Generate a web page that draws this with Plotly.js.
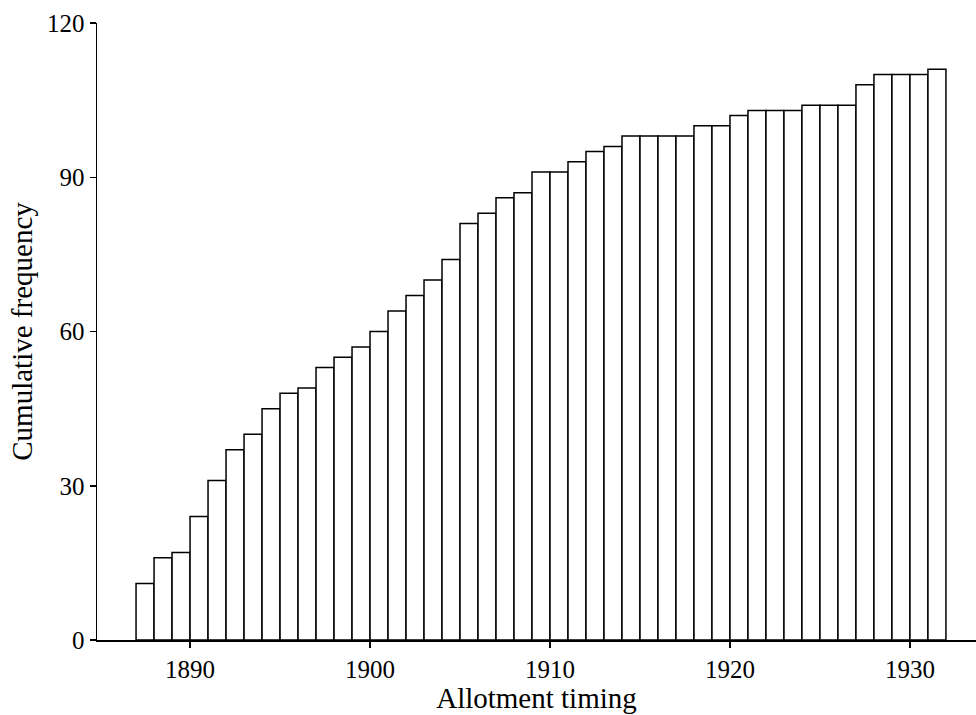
<!DOCTYPE html>
<html>
<head>
<meta charset="utf-8">
<script src="https://cdn.plot.ly/plotly-3.0.1.min.js"></script>
<style>
  html, body { margin: 0; padding: 0; background: #ffffff; }
  #chart { width: 976px; height: 715px; }
</style>
</head>
<body>
<div id="chart"></div>
<script>
// Allotment years (each bar spans one year, starting at the year value)
const years = [
  1887, 1888, 1889, 1890, 1891, 1892, 1893, 1894, 1895, 1896,
  1897, 1898, 1899, 1900, 1901, 1902, 1903, 1904, 1905, 1906,
  1907, 1908, 1909, 1910, 1911, 1912, 1913, 1914, 1915, 1916,
  1917, 1918, 1919, 1920, 1921, 1922, 1923, 1924, 1925, 1926,
  1927, 1928, 1929, 1930, 1931
];

// Cumulative number of allotments up to each year
const cumulative = [
  11, 16, 17, 24, 31, 37, 40, 45, 48, 49,
  53, 55, 57, 60, 64, 67, 70, 74, 81, 83,
  86, 87, 91, 91, 93, 95, 96, 98, 98, 98,
  98, 100, 100, 102, 103, 103, 103, 104, 104, 104,
  108, 110, 110, 110, 111
];

const xTicks = [1890, 1900, 1910, 1920, 1930];
const yTicks = [0, 30, 60, 90, 120];

const serif = "Liberation Serif, Times New Roman, serif";

const trace = {
  type: "bar",
  x: years,
  y: cumulative,
  offset: 0,
  width: 1,
  marker: {
    color: "#ffffff",
    line: { color: "#000000", width: 1.5 }
  },
  hoverinfo: "x+y"
};

const layout = {
  width: 976,
  height: 715,
  margin: { l: 97, r: 0, t: 23, b: 75 },
  paper_bgcolor: "#ffffff",
  plot_bgcolor: "#ffffff",
  showlegend: false,
  bargap: 0,
  font: { family: serif, color: "#000000" },
  xaxis: {
    range: [1884.83, 1933.67],
    tickvals: xTicks,
    ticktext: xTicks.map(String),
    ticks: "outside",
    ticklen: 6,
    tickwidth: 1.5,
    tickcolor: "#000000",
    showline: true,
    linecolor: "#000000",
    linewidth: 1.5,
    showgrid: false,
    zeroline: false,
    tickfont: { family: serif, size: 25, color: "#000000" },
    title: {
      text: "Allotment timing",
      font: { family: serif, size: 29, color: "#000000" },
      standoff: 6
    }
  },
  yaxis: {
    range: [0, 120],
    tickvals: yTicks,
    ticktext: yTicks.map(String),
    ticks: "outside",
    ticklen: 6,
    tickwidth: 1.5,
    tickcolor: "#000000",
    showline: true,
    linecolor: "#000000",
    linewidth: 1.5,
    showgrid: false,
    zeroline: false,
    tickfont: { family: serif, size: 25, color: "#000000" },
    title: {
      text: "Cumulative frequency",
      font: { family: serif, size: 29, color: "#000000" },
      standoff: 6
    }
  }
};

Plotly.newPlot("chart", [trace], layout, { displayModeBar: false, staticPlot: true });
</script>
</body>
</html>
